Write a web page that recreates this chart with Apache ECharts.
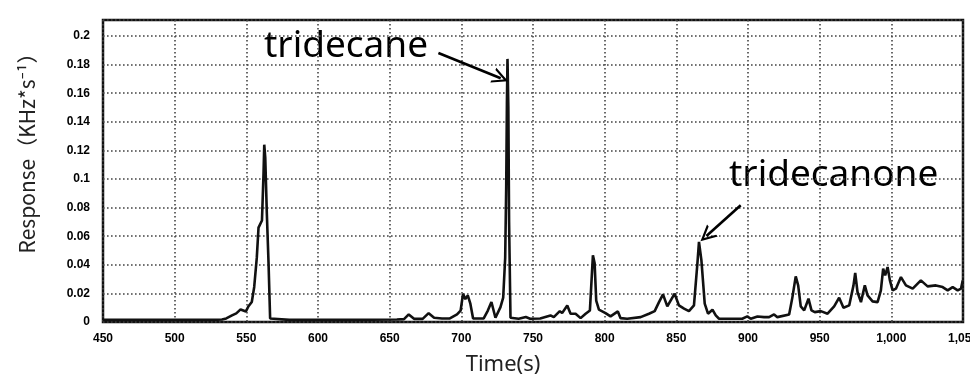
<!DOCTYPE html>
<html>
<head>
<meta charset="utf-8">
<script src="https://cdn.jsdelivr.net/npm/echarts@6/dist/echarts.min.js"></script>
<style>
html,body{margin:0;padding:0;background:#fff;}
#chart{width:970px;height:377px;}
</style>
</head>
<body>
<div id="chart"></div>
<script>
// ---- data ----
var times = [450, 480, 510, 530, 533, 536, 540, 543, 546, 549.7, 551.5, 553.8, 555.5, 557.3, 558.5, 560.9, 562, 562.5, 563.2, 564.3, 565.5, 566.6, 567.5, 580, 620, 655, 660, 663.3, 667, 673, 677.2, 681, 686.5, 692, 697, 699.5, 701.2, 702.8, 704.5, 706.3, 708.2, 715.6, 718.5, 721, 723.8, 727.3, 729.2, 730.6, 731.3, 731.8, 732.2, 732.8, 733.3, 734.3, 740, 745, 748, 755, 762.2, 764.5, 768.7, 770.3, 773.9, 776.2, 779.7, 783.2, 786.7, 789.7, 791.8, 793, 794.1, 796, 800.6, 804.1, 809.2, 811.1, 815.7, 825.1, 830.9, 834.9, 837.9, 840.7, 843.7, 848.8, 851.8, 855.4, 858.8, 862.3, 864.7, 865.8, 867.5, 869.8, 872.1, 875.2, 877.5, 879.8, 896, 899.5, 901.9, 906.6, 911.2, 914.7, 918.2, 920.5, 928.7, 931, 933.3, 935, 936.8, 939.2, 942.2, 944.3, 946.6, 950.8, 955.5, 960.1, 963.6, 966.6, 970.6, 973.6, 974.8, 976.4, 978.8, 981.5, 983.4, 986.9, 990.4, 992.7, 994.3, 995.7, 997.4, 999, 1000.9, 1003.2, 1006.7, 1010.2, 1014.9, 1020.6, 1025.3, 1031.1, 1035.8, 1039.3, 1042.8, 1046.3, 1048.6, 1049.8];
var responses = [0.0015, 0.0015, 0.0015, 0.0016, 0.0018, 0.0025, 0.0046, 0.006, 0.0088, 0.0074, 0.011, 0.014, 0.0245, 0.045, 0.066, 0.071, 0.104, 0.124, 0.115, 0.076, 0.041, 0.0025, 0.0015, 0.0015, 0.0015, 0.0018, 0.002, 0.0053, 0.0022, 0.0022, 0.0062, 0.003, 0.0025, 0.0025, 0.0053, 0.008, 0.0198, 0.016, 0.0186, 0.0128, 0.0025, 0.0025, 0.008, 0.014, 0.003, 0.0104, 0.017, 0.045, 0.094, 0.153, 0.184, 0.15, 0.071, 0.003, 0.0023, 0.0035, 0.0023, 0.0025, 0.0046, 0.0034, 0.0076, 0.0062, 0.0116, 0.0058, 0.0058, 0.0027, 0.0058, 0.0081, 0.0466, 0.041, 0.015, 0.0086, 0.0062, 0.0039, 0.0074, 0.0027, 0.0023, 0.0034, 0.0058, 0.0076, 0.0139, 0.0193, 0.0109, 0.0198, 0.0116, 0.0093, 0.0076, 0.0116, 0.041, 0.056, 0.0431, 0.0128, 0.0058, 0.0086, 0.0046, 0.0023, 0.0023, 0.0039, 0.0023, 0.0039, 0.0034, 0.0034, 0.0053, 0.0034, 0.0053, 0.0174, 0.0319, 0.0256, 0.0109, 0.0081, 0.0163, 0.0081, 0.0069, 0.0076, 0.0058, 0.0109, 0.017, 0.01, 0.0116, 0.0256, 0.0343, 0.021, 0.0139, 0.0256, 0.0186, 0.0144, 0.0139, 0.0221, 0.0373, 0.0326, 0.0384, 0.0291, 0.0221, 0.0233, 0.0314, 0.0256, 0.0233, 0.0291, 0.0249, 0.0256, 0.0244, 0.0221, 0.0244, 0.0221, 0.0233, 0.0291];

var xTickValues = [450, 500, 550, 600, 650, 700, 750, 800, 850, 900, 950, 1000, 1050];
var xTickLabels = ['450', '500', '550', '600', '650', '700', '750', '800', '850', '900', '950', '1,000', '1,050'];
var yTickValues = [0, 0.02, 0.04, 0.06, 0.08, 0.1, 0.12, 0.14, 0.16, 0.18, 0.2];
var yTickLabels = ['0', '0.02', '0.04', '0.06', '0.08', '0.1', '0.12', '0.14', '0.16', '0.18', '0.2'];

// annotations: label names, arrow tails and tips in (time, response)
var annotationNames = ['tridecane', 'tridecanone'];
var arrowTails = [[684, 0.1881], [894.9, 0.0817]];
var arrowTips = [[727.5, 0.1705], [871.0, 0.0602]];

var xAxisTitle = 'Time(s)';
var yAxisTitle = 'Response\uFF08KHz*s\u207B\u00B9\uFF09';

// ---- chart ----
var seriesData = times.map(function (t, i) { return [t, responses[i]]; });

function lookup(values, labels, v) {
  for (var i = 0; i < values.length; i++) {
    if (Math.abs(values[i] - v) < 1e-6) return labels[i];
  }
  return '';
}

var chart = echarts.init(document.getElementById('chart'), null, { renderer: 'canvas' });
var tickFont = { color: '#000', fontFamily: 'Liberation Sans, Arial, sans-serif', fontWeight: 'bold', fontSize: 12 };
var gridLine = { show: true, lineStyle: { color: '#444', width: 1.6, type: [1.6, 2.4] } };

var arrowHead = 'path://M0,0 L6,12 L4.2,12 L0,3.6 L-4.2,12 L-6,12 Z';

var option = {
  animation: false,
  backgroundColor: '#fff',
  grid: { left: 103, right: 7, top: 20, bottom: 55, containLabel: false, outerBoundsMode: 'none', show: true, borderColor: '#111', borderWidth: 2.5, backgroundColor: 'transparent' },
  xAxis: {
    type: 'value', min: 450, max: 1050, interval: 50,
    axisLine: { show: false }, axisTick: { show: false },
    axisLabel: Object.assign({ margin: 11, hideOverlap: false, formatter: function (v) { return lookup(xTickValues, xTickLabels, v); } }, tickFont),
    splitLine: gridLine
  },
  yAxis: {
    type: 'value', min: 0, max: 0.2112, interval: 0.02,
    axisLine: { show: false }, axisTick: { show: false },
    axisLabel: Object.assign({ margin: 13, showMaxLabel: false, formatter: function (v) { return lookup(yTickValues, yTickLabels, v); } }, tickFont),
    splitLine: gridLine
  },
  series: [{
    type: 'line',
    data: seriesData,
    showSymbol: false,
    smooth: false,
    lineStyle: { color: '#111', width: 2.6 },
    z: 3,
    markLine: {
      silent: true,
      symbol: ['none', arrowHead],
      symbolSize: [16, 16],
      label: { show: false },
      lineStyle: { color: '#000', width: 2.6, type: 'solid' },
      data: arrowTails.map(function (tail, i) {
        return [{ coord: tail }, { coord: arrowTips[i] }];
      })
    }
  }],
  graphic: [
    { type: 'text', left: 264, top: 28, style: { text: annotationNames[0], font: '37px "Noto Sans", sans-serif', fill: '#000' } },
    { type: 'text', left: 729, top: 157, style: { text: annotationNames[1], font: '37px "Noto Sans", sans-serif', fill: '#000' } },
    { type: 'text', x: 503, y: 365, style: { text: xAxisTitle, font: '22px "Noto Sans", sans-serif', fill: '#222', align: 'center', verticalAlign: 'middle' } },
    { type: 'text', x: 27, y: 148, rotation: Math.PI / 2, style: { text: yAxisTitle, font: '21px "Noto Sans CJK SC", "Noto Sans", sans-serif', fill: '#222', align: 'center', verticalAlign: 'middle' } }
  ]
};
chart.setOption(option);
</script>
</body>
</html>
